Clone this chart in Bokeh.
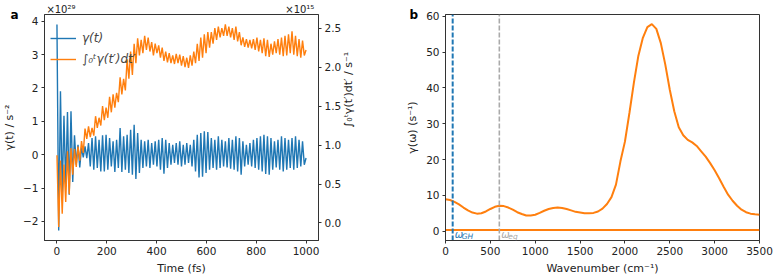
import numpy as np
from bokeh.plotting import figure
from bokeh.layouts import row
from bokeh.models import (Range1d, LinearAxis, FixedTicker, Label, Title,
                          Legend, LegendItem, PrintfTickFormatter)
from bokeh.embed import file_html
from bokeh.resources import INLINE

# ---------------- data ----------------
# (a) time-dependent friction kernel and its running integral
time_fs = np.linspace(0, 1000, 143)

gamma_t = [  # units of 1e29 s^-2
    3.90, -2.27, 1.90, -1.17, 1.17, -0.96, 1.28, -1.20, 1.30, -0.82,
    0.58, -0.30, 0.30, -0.38, 0.22, -0.08, 0.25, -0.10, 0.35, -0.35,
    0.50, -0.45, 0.55, -0.40, 0.45, -0.50, 0.58, -0.50, 0.60, -0.45,
    0.50, -0.35, 0.40, -0.52, 0.45, -0.40, 0.80, -0.52, 0.55, -0.45,
    0.60, -0.55, 0.75, -0.60, 0.90, -0.73, 0.65, -0.55, 0.45, -0.40,
    0.40, -0.35, 0.45, -0.40, 0.35, -0.30, 0.40, -0.35, 0.45, -0.45,
    0.50, -0.57, 0.45, -0.40, 0.35, -0.30, 0.30, -0.25, 0.35, -0.30,
    0.40, -0.35, 0.30, -0.30, 0.35, -0.25, 0.30, -0.35, 0.45, -0.50,
    0.60, -0.68, 0.65, -0.66, 0.70, -0.55, 0.68, -0.45, 0.50, -0.40,
    0.45, -0.45, 0.55, -0.40, 0.45, -0.35, 0.40, -0.38, 0.50, -0.42,
    0.45, -0.45, 0.55, -0.50, 0.50, -0.60, 0.40, -0.35, 0.30, -0.30,
    0.35, -0.35, 0.45, -0.40, 0.50, -0.45, 0.55, -0.50, 0.60, -0.58,
    0.55, -0.60, 0.50, -0.45, 0.40, -0.38, 0.45, -0.45, 0.55, -0.50,
    0.50, -0.45, 0.45, -0.40, 0.50, -0.45, 0.55, -0.40, 0.45, -0.35,
    0.40, -0.30, -0.10,
]

gamma_int = [  # units of 1e15 s^-1
    0.87, -0.05, 0.80, 0.12, 0.75, 0.27, 0.92, 0.37, 0.96, 0.62,
    0.95, 0.72, 0.98, 0.80, 1.05, 0.90, 1.21, 1.08, 1.24, 1.10,
    1.22, 1.12, 1.37, 1.22, 1.35, 1.25, 1.50, 1.32, 1.48, 1.35,
    1.62, 1.42, 1.65, 1.48, 1.67, 1.55, 1.87, 1.65, 1.85, 1.70,
    2.10, 1.85, 2.20, 1.90, 2.30, 2.05, 2.37, 2.15, 2.35, 2.18,
    2.40, 2.22, 2.38, 2.20, 2.32, 2.15, 2.30, 2.18, 2.28, 2.12,
    2.25, 2.08, 2.20, 2.06, 2.18, 2.05, 2.15, 2.04, 2.17, 2.05,
    2.16, 2.02, 2.14, 2.00, 2.12, 1.99, 2.15, 2.02, 2.20, 2.05,
    2.30, 2.08, 2.38, 2.12, 2.42, 2.18, 2.45, 2.25, 2.45, 2.30,
    2.50, 2.35, 2.52, 2.38, 2.50, 2.40, 2.55, 2.40, 2.52, 2.38,
    2.50, 2.35, 2.52, 2.33, 2.45, 2.28, 2.38, 2.26, 2.36, 2.25,
    2.35, 2.24, 2.36, 2.22, 2.38, 2.20, 2.35, 2.18, 2.37, 2.14,
    2.35, 2.13, 2.30, 2.16, 2.33, 2.18, 2.36, 2.16, 2.38, 2.14,
    2.40, 2.15, 2.42, 2.18, 2.46, 2.16, 2.40, 2.14, 2.36, 2.12,
    2.34, 2.15, 2.22,
]

# scale factors printed above the two y axes of (a)
exp_label_left = "\u00d710\u00b2\u2079"
exp_label_right = "\u00d710\u00b9\u2075"

# (b) friction spectrum
wavenumber = list(range(0, 3501, 50))
gamma_w = [
    8.9, 8.7, 8.2, 7.5, 6.6, 5.8, 5.2, 4.9, 5.0, 5.5,
    6.2, 6.8, 7.1, 7.0, 6.6, 6.0, 5.3, 4.8, 4.4, 4.4,
    4.6, 5.1, 5.7, 6.2, 6.5, 6.6, 6.5, 6.2, 5.8, 5.4,
    5.2, 5.0, 5.0, 5.1, 5.5, 6.3, 7.6, 9.5, 13.0, 19.5,
    25.0, 33.0, 41.5, 49.0, 54.0, 57.0, 57.8, 56.5, 52.5, 46.5,
    39.5, 33.5, 29.0, 26.8, 25.5, 24.8, 23.8, 22.3, 20.8, 19.0,
    17.0, 14.8, 12.4, 10.2, 8.5, 7.1, 6.0, 5.3, 4.9, 4.7,
    4.6,
]
gamma_w_zero = 0.3
omega_gh = 80
omega_eq = 600

BLUE = "#1f77b4"
ORANGE = "#ff7f0e"
GREY = "#aaaaaa"
INK = "#222222"
FONT = "DejaVu Sans"
TICK_SIZE = "10.5px"
LABEL_SIZE = "11px"


def style_axis(ax):
    ax.major_label_text_font = FONT
    ax.major_label_text_font_size = TICK_SIZE
    ax.major_label_text_color = INK
    ax.axis_label_text_font = FONT
    ax.axis_label_text_font_size = LABEL_SIZE
    ax.axis_label_text_font_style = "normal"
    ax.axis_label_text_color = INK
    ax.axis_line_color = "#333333"
    ax.major_tick_line_color = "#333333"
    ax.major_tick_in = 0
    ax.major_tick_out = 3
    ax.minor_tick_line_color = None
    ax.major_label_standoff = 3
    ax.axis_label_standoff = 4


def panel_letter(fig, letter, offset):
    # bold panel letter at the top-left corner; zero-height title row
    fig.add_layout(Title(text=letter, align="left", vertical_align="middle",
                         offset=offset, standoff=-16, text_font=FONT,
                         text_font_size="12px", text_font_style="bold",
                         text_color="black"), "above")


# ---------------- panel a ----------------
pa = figure(width=375, height=277, x_range=Range1d(-50, 1050),
            y_range=Range1d(-2.57, 4.2), output_backend="svg",
            toolbar_location=None, min_border_left=39, min_border_right=57,
            min_border_top=13, min_border_bottom=32)
pa.extra_y_ranges = {"int": Range1d(-0.225, 2.675)}
pa.grid.visible = False
pa.outline_line_color = "#333333"

r_gamma = pa.line(time_fs, gamma_t, line_color=BLUE, line_width=1.4)
r_int = pa.line(time_fs, gamma_int, line_color=ORANGE, line_width=1.4,
                y_range_name="int")

pa.xaxis.ticker = FixedTicker(ticks=[0, 200, 400, 600, 800, 1000])
pa.xaxis.axis_label = "Time (fs)"
pa.yaxis.ticker = FixedTicker(ticks=[-2, -1, 0, 1, 2, 3, 4])
pa.yaxis.major_label_overrides = {-2: "\u22122", -1: "\u22121"}
pa.yaxis.axis_label = "\u03b3(t) / s\u207b\u00b2"

right_ax = LinearAxis(y_range_name="int",
                      ticker=FixedTicker(ticks=[0.0, 0.5, 1.0, 1.5, 2.0, 2.5]),
                      formatter=PrintfTickFormatter(format="%.1f"),
                      axis_label="\u222b\u2080\u1d57\u03b3(t\u2032)dt\u2032 / s\u207b\u00b9")
pa.add_layout(right_ax, "right")
for ax in pa.xaxis + pa.yaxis + [right_ax]:
    style_axis(ax)
right_ax.axis_label_orientation = np.pi / 2

legend = Legend(items=[LegendItem(label="\u03b3(t)", renderers=[r_gamma]),
                       LegendItem(label="\u222b\u2080\u1d57\u03b3(t\u2032)dt\u2032",
                                  renderers=[r_int])],
                location=(6, 172), padding=0, margin=0, spacing=3,
                glyph_width=26, glyph_height=18, label_height=18,
                label_standoff=6, background_fill_alpha=0,
                border_line_alpha=0, label_text_font=FONT,
                label_text_font_size="12px", label_text_font_style="italic")
pa.add_layout(legend)

# letter row sits right on the frame, the scale-factor row above it
panel_letter(pa, "a", -34)
exp_axis = LinearAxis(ticker=FixedTicker(ticks=[16, 975]),
                      major_label_overrides={16: exp_label_left,
                                             975: exp_label_right})
style_axis(exp_axis)
exp_axis.axis_line_color = None
exp_axis.major_tick_line_color = None
exp_axis.major_tick_out = 0
exp_axis.major_label_standoff = 0
exp_axis.major_label_text_font_size = "10px"
pa.add_layout(exp_axis, "above")

# ---------------- panel b ----------------
pb = figure(width=399, height=277, x_range=Range1d(0, 3500),
            y_range=Range1d(-2.6, 60.5), output_backend="svg",
            toolbar_location=None, min_border_left=70, min_border_right=15,
            min_border_top=8, min_border_bottom=34)
pb.grid.visible = False
pb.outline_line_color = "#333333"

pb.line(wavenumber, gamma_w, line_color=ORANGE, line_width=2)
pb.line(wavenumber, [gamma_w_zero] * len(wavenumber), line_color=ORANGE,
        line_width=2)
pb.line([omega_gh, omega_gh], [-2.6, 60.5], line_color=BLUE, line_width=2,
        line_dash="5 2")
pb.line([omega_eq, omega_eq], [-2.6, 60.5], line_color=GREY, line_width=1.6,
        line_dash="5 2")

pb.xaxis.ticker = FixedTicker(ticks=[0, 500, 1000, 1500, 2000, 2500, 3000, 3500])
pb.xaxis.axis_label = "Wavenumber (cm\u207b\u00b9)"
pb.yaxis.ticker = FixedTicker(ticks=[0, 10, 20, 30, 40, 50, 60])
pb.yaxis.axis_label = "\u03b3(\u03c9) (s\u207b\u00b9)"
for ax in pb.xaxis + pb.yaxis:
    style_axis(ax)

for xv, col, sub in [(omega_gh, BLUE, "GH"), (omega_eq, GREY, "eq")]:
    pb.add_layout(Label(x=xv, y=-2.6, x_offset=2, y_offset=1, text="\u03c9",
                        text_font=FONT, text_font_size="10px",
                        text_font_style="italic", text_color=col,
                        text_baseline="bottom", text_align="left"))
    pb.add_layout(Label(x=xv, y=-2.6, x_offset=9, y_offset=0, text=sub,
                        text_font=FONT, text_font_size="7.5px",
                        text_font_style="italic", text_color=col,
                        text_baseline="bottom", text_align="left"))

panel_letter(pb, "b", -36)

layout = row(pa, pb)
open("out.html", "w").write(file_html(layout, INLINE))
